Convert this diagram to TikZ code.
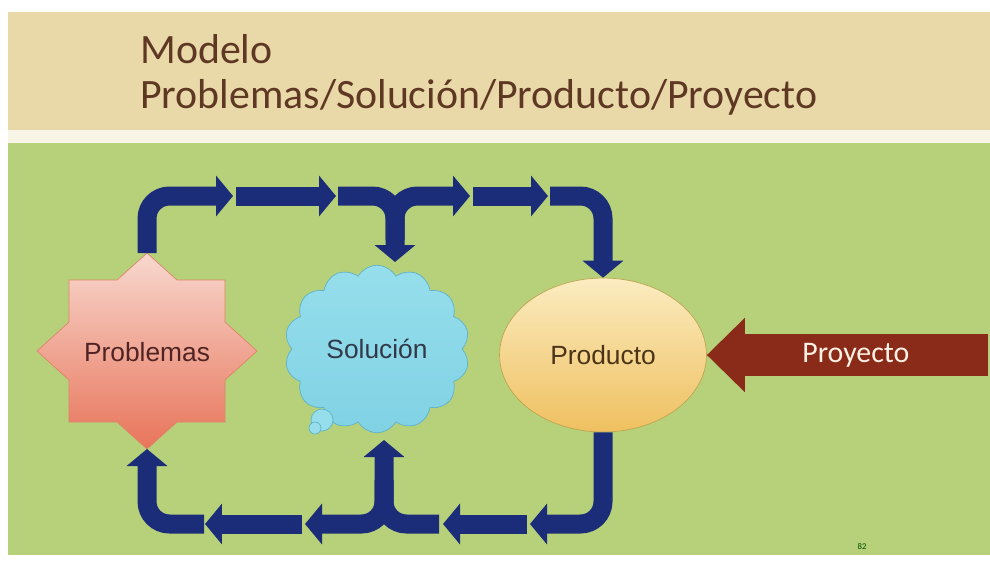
\documentclass[tikz,border=0pt]{standalone}
\usepackage{fontspec}
\setmainfont{Carlito}
\newfontfamily\shapefont{Liberation Sans}
\usetikzlibrary{shapes.geometric,shapes.symbols,arrows.meta}

\definecolor{paper}{HTML}{E9D9A9}
\definecolor{strip}{HTML}{F8F4E6}
\definecolor{grass}{HTML}{B7D17B}
\definecolor{titlebrown}{HTML}{5E3823}
\definecolor{navy}{HTML}{1B2D78}
\definecolor{rust}{HTML}{8A2A18}

\begin{document}
\begin{tikzpicture}[x=0.02cm, y=-0.02cm,
    flow/.style={line width=0.38cm, draw=navy, rounded corners=0.45cm,
        -{Triangle[width=0.8cm,length=0.34cm]}},
    shapetext/.style={font=\shapefont\fontsize{15}{18}\selectfont}]

    \useasboundingbox (0,0) rectangle (990,562);
    \fill[white] (0,0) rectangle (990,562);
    \fill[paper] (8,12) rectangle (990,130);
    \fill[strip] (8,130) rectangle (990,143);
    \fill[grass] (8,143) rectangle (990,555);

    \node[anchor=base west, text=titlebrown, font=\fontsize{23.8}{28}\selectfont, inner sep=0pt] (title1) at (140,63) {Modelo};
    \node[anchor=base west, text=titlebrown, font=\fontsize{23.8}{28}\selectfont, inner sep=0pt] (title2) at (140,108) {Problemas/Solución/Producto/Proyecto};

    \path[draw={rgb,255:red,222;green,132;blue,105}, top color={rgb,255:red,248;green,216;blue,206}, bottom color={rgb,255:red,232;green,116;blue,90}] (147,253) -- (177,280) -- (225,280) -- (225,322) -- (257,351) -- (225,380) -- (225,422) -- (177,422) -- (147,449) -- (117,422) -- (69,422) -- (69,380) -- (37,351) -- (69,322) -- (69,280) -- (117,280) -- cycle;
    \node[shapetext, text={rgb,255:red,80;green,36;blue,36}] (prob) at (147,352) {Problemas};
    \coordinate (probtop) at (147,253);
    \coordinate (probbot) at (147,449);

    \node[shape=cloud, cloud puffs=14, cloud puff arc=120, aspect=1.1, minimum width=3.7cm, minimum height=3.35cm, draw={rgb,255:red,96;green,178;blue,200}, top color={rgb,255:red,150;green,222;blue,236}, bottom color={rgb,255:red,128;green,210;blue,228}, shapetext, text={rgb,255:red,50;green,56;blue,72}] (sol) at (377,349) {Solución};
    \path[draw={rgb,255:red,96;green,178;blue,200}, fill={rgb,255:red,150;green,222;blue,236}] (322,420) circle (11);
    \path[draw={rgb,255:red,96;green,178;blue,200}, fill={rgb,255:red,150;green,222;blue,236}] (315,428) circle (6);
    \coordinate (soltop) at (395,262);
    \coordinate (solbot) at (384,440);

    \node[ellipse, minimum width=4.14cm, minimum height=3.08cm, draw={rgb,255:red,190;green,165;blue,80}, top color={rgb,255:red,251;green,236;blue,192}, bottom color={rgb,255:red,239;green,192;blue,96}, shapetext, text={rgb,255:red,75;green,52;blue,24}] (prod) at (603,355) {Producto};

    \coordinate (proyend) at (988,355);
    \draw[line width=0.84cm, draw=rust, -{Triangle[width=1.44cm,length=0.76cm]}] (proyend) -- (prod.east) node[pos=0.47, text=white!90!orange, font=\fontsize{17}{20}\selectfont] (proy) {Proyecto};

    \coordinate (t1) at (233,196);
    \coordinate (t2a) at (236,196);
    \coordinate (t2) at (336,196);
    \coordinate (t3a) at (338,196);
    \coordinate (t3b) at (395,240);
    \coordinate (t3) at (470,196);
    \coordinate (t4a) at (473,196);
    \coordinate (t4) at (548,196);
    \coordinate (t5a) at (550,196);

    \draw[flow] (probtop) |- (t1);
    \draw[flow] (t2a) -- (t2);
    \draw[flow] (t3a) -| (soltop);
    \draw[flow] (t3b) |- (t3);
    \draw[flow] (t4a) -- (t4);
    \draw[flow] (t5a) -| (prod.north);

    \coordinate (b1) at (530,524);
    \coordinate (b2a) at (527,524);
    \coordinate (b2) at (443,524);
    \coordinate (b3a) at (439,524);
    \coordinate (b3b) at (384,480);
    \coordinate (b3) at (305,524);
    \coordinate (b4a) at (302,524);
    \coordinate (b4) at (205,524);
    \coordinate (b5a) at (204,524);

    \draw[flow] (prod.south) |- (b1);
    \draw[flow] (b2a) -- (b2);
    \draw[flow] (b3a) -| (solbot);
    \draw[flow] (b3b) |- (b3);
    \draw[flow] (b4a) -- (b4);
    \draw[flow] (b5a) -| (probbot);

    \node[text=green!30!black, font=\fontsize{5}{6}\selectfont] (pagenum) at (862,547) {82};
\end{tikzpicture}
\end{document}
